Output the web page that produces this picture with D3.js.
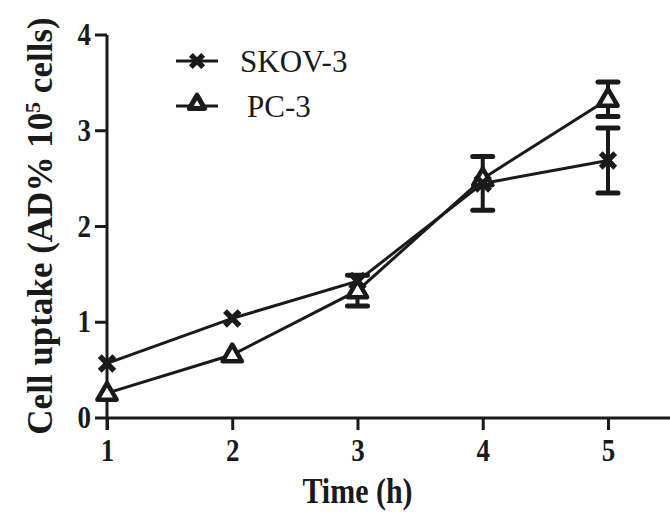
<!DOCTYPE html>
<html>
<head>
<meta charset="utf-8">
<script src="https://cdn.jsdelivr.net/npm/d3@7"></script>
<style>
  body { margin: 0; background: #fff; }
  svg { display: block; }
  text { font-family: "Liberation Serif", "Times New Roman", serif; fill: #1a1a1a; }
</style>
</head>
<body>
<div id="chart"></div>
<script>
// data
var times = [1, 2, 3, 4, 5];
var skovMean = [0.57, 1.04, 1.43, 2.45, 2.69];
var skovErr  = [0.03, 0.03, 0.06, 0.28, 0.34];
var pcMean   = [0.26, 0.66, 1.33, 2.50, 3.33];
var pcErr    = [0.03, 0.03, 0.16, 0.05, 0.18];
var yTicks = [0, 1, 2, 3, 4];
var seriesNames = ["SKOV-3", "PC-3"];

var width = 670, height = 514;
var ink = "#1a1a1a";

var svg = d3.select("#chart").append("svg")
    .attr("width", width)
    .attr("height", height);

var x = d3.scaleLinear().domain([1, 5.5]).range([107, 670.6]);
var y = d3.scaleLinear().domain([0, 4]).range([418, 35]);

// y axis
var yAxis = svg.append("g")
    .attr("transform", "translate(" + x(1) + ",0)")
    .call(d3.axisLeft(y).tickValues(yTicks).tickSize(12).tickPadding(4).tickFormat(d3.format("d")));
yAxis.select(".domain").attr("d", "M0," + y(4) + "V" + (y(0) + 12));
yAxis.selectAll("line, path").attr("stroke", ink).attr("stroke-width", 3);
yAxis.selectAll(".tick").attr("transform", "translate(0,0)");
yAxis.selectAll(".tick line").attr("transform", function(d) { return "translate(0," + y(d) + ")"; });
yAxis.selectAll("text").style("font-size", "27px").style("font-weight", "bold")
    .attr("dy", null).attr("y", 0)
    .attr("transform", function(d) { return "translate(0," + (y(d) + 10) + ") scale(1,1.15)"; });

// x axis
var xAxis = svg.append("g")
    .attr("transform", "translate(0," + y(0) + ")")
    .call(d3.axisBottom(x).tickValues(times).tickSize(12).tickPadding(6).tickFormat(d3.format("d")));
xAxis.select(".domain").attr("d", "M" + x(1) + ",0H" + width);
xAxis.selectAll("line, path").attr("stroke", ink).attr("stroke-width", 3);
xAxis.selectAll("text").style("font-size", "27px").style("font-weight", "bold")
    .attr("dy", null).attr("y", 0)
    .attr("transform", "translate(0,43) scale(1,1.15)");

// axis titles
svg.append("text")
    .attr("transform", "translate(" + x(3) + ",503) scale(1,1.2)")
    .attr("text-anchor", "middle")
    .style("font-size", "30px")
    .style("font-weight", "bold")
    .text("Time (h)");

var yl = svg.append("text")
    .attr("transform", "translate(52,226) rotate(-90)")
    .attr("text-anchor", "middle")
    .style("font-size", "35px")
    .style("font-weight", "bold");
yl.append("tspan").text("Cell uptake (AD% 10");
yl.append("tspan").attr("dy", -12).style("font-size", "22px").text("5");
yl.append("tspan").attr("dy", 12).text(" cells)");

var line = d3.line().x(function(d) { return x(d.t); }).y(function(d) { return y(d.v); });

function pack(means, errs) {
  return times.map(function(t, i) { return { t: t, v: means[i], e: errs[i] }; });
}
var skov = pack(skovMean, skovErr);
var pc = pack(pcMean, pcErr);

function drawErr(data) {
  var g = svg.append("g");
  data.forEach(function(d) {
    if (d.e < 0.08) return;
    g.append("line").attr("x1", x(d.t)).attr("x2", x(d.t))
      .attr("y1", y(d.v - d.e)).attr("y2", y(d.v + d.e))
      .attr("stroke", ink).attr("stroke-width", 4);
    [d.v - d.e, d.v + d.e].forEach(function(v) {
      g.append("line").attr("x1", x(d.t) - 10).attr("x2", x(d.t) + 10)
        .attr("y1", y(v)).attr("y2", y(v))
        .attr("stroke", ink).attr("stroke-width", 5).attr("stroke-linecap", "round");
    });
  });
}

drawErr(skov);
drawErr(pc);

svg.append("path").datum(pc).attr("d", line)
  .attr("fill", "none").attr("stroke", ink).attr("stroke-width", 3);
svg.append("path").datum(skov).attr("d", line)
  .attr("fill", "none").attr("stroke", ink).attr("stroke-width", 3);

function drawCross(px, py, s) {
  svg.append("path").attr("d", d3.symbol().type(d3.symbolX).size(s)())
    .attr("transform", "translate(" + px + "," + py + ")")
    .attr("fill", "none").attr("stroke", ink).attr("stroke-width", 5.5);
}
function drawTri(px, py, s, sw) {
  svg.append("path").attr("d", d3.symbol().type(d3.symbolTriangle).size(s)())
    .attr("transform", "translate(" + px + "," + (py + 1) + ")")
    .attr("fill", "#fff").attr("stroke", ink).attr("stroke-width", sw).attr("stroke-linejoin", "round");
}

pc.forEach(function(d) { drawTri(x(d.t), y(d.v), 160, 4.5); });
skov.forEach(function(d) { drawCross(x(d.t), y(d.v), 140); });

// legend
var legY = [61, 106];
seriesNames.forEach(function(name, i) {
  svg.append("line").attr("x1", 176).attr("x2", 218).attr("y1", legY[i]).attr("y2", legY[i])
    .attr("stroke", ink).attr("stroke-width", 3);
  if (i === 0) drawCross(197, legY[i], 100); else drawTri(197, legY[i] - 3, 100, 5);
  svg.append("text").attr("x", i === 0 ? 240 : 247).attr("y", legY[i]).attr("dy", "0.35em")
    .style("font-size", "31px").text(name);
});
</script>
</body>
</html>
